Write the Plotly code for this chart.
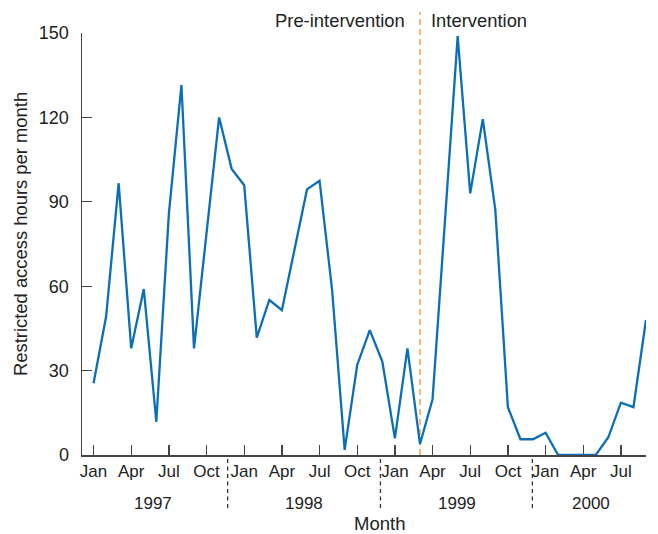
import plotly.graph_objects as go

# Monthly restricted access hours, Jan 1997 .. Sep 2000
hours = [25.5, 49.2, 96.6, 37.9, 59.0, 11.8, 85.9, 131.5, 37.9, 79.0, 120.0, 101.7,
         95.9, 41.7, 55.1, 51.5, 73.0, 94.4, 97.5, 58.6, 1.8, 32.0, 44.4, 33.2,
         5.9, 37.9, 3.9, 19.8, 84.0, 148.9, 93.0, 119.4, 87.1, 17.0, 5.6, 5.6,
         7.9, 0.0, 0.0, 0.0, 0.0, 6.3, 18.6, 17.0, 48.0]
month_ticks = [0, 3, 6, 9, 12, 15, 18, 21, 24, 27, 30, 33, 36, 39, 42]
month_labels = ["Jan", "Apr", "Jul", "Oct"] * 3 + ["Jan", "Apr", "Jul"]
years = ["1997", "1998", "1999", "2000"]
year_pos = [4.73, 16.76, 28.93, 39.6]
year_seps = [10.68, 22.85, 34.95]
intervention_start = 26
y_ticks = [0, 30, 60, 90, 120, 150]

x = list(range(len(hours)))

BLUE = "#0B6FB8"
ORANGE = "#FBB56E"
AX = "#444444"
TXT = "#222222"
FONT = "Liberation Sans, Arial, sans-serif"

W, H = 658, 534
plot_l, plot_r, plot_t, plot_b = 82, 12, 33, 79
pw = W - plot_l - plot_r
ph = H - plot_t - plot_b


def px_x(p):
    return (p - plot_l) / pw


def px_y(p):
    return (H - plot_b - p) / ph


fig = go.Figure()
fig.add_trace(go.Scatter(x=x, y=hours, mode="lines",
                         line=dict(color=BLUE, width=2.3), showlegend=False,
                         hoverinfo="skip", cliponaxis=False))

shapes = []
shapes.append(dict(type="line", xref="x", yref="paper", x0=intervention_start, x1=intervention_start,
                   y0=0, y1=px_y(12), layer="below", line=dict(color=ORANGE, width=2, dash="6px,4px")))
for s in year_seps:
    shapes.append(dict(type="line", xref="x", yref="paper", x0=s, x1=s,
                       y0=px_y(459), y1=px_y(509), line=dict(color="#333333", width=1.3, dash="4px,3.5px")))

annotations = []
for yv, yp in zip(years, year_pos):
    annotations.append(dict(x=yp, y=px_y(503), xref="x", yref="paper", text=yv, showarrow=False,
                            font=dict(size=17, color=TXT, family=FONT), xanchor="center", yanchor="middle"))
annotations.append(dict(x=px_x(379), y=px_y(523), xref="paper", yref="paper", text="Month", showarrow=False,
                        font=dict(size=18.5, color=TXT, family=FONT), xanchor="center", yanchor="middle"))
annotations.append(dict(x=px_x(407), y=px_y(21), xref="paper", yref="paper", text="Pre-intervention",
                        showarrow=False, font=dict(size=18.4, color=TXT, family=FONT),
                        xanchor="right", yanchor="middle"))
annotations.append(dict(x=px_x(429), y=px_y(21), xref="paper", yref="paper", text="Intervention",
                        showarrow=False, font=dict(size=18.4, color=TXT, family=FONT),
                        xanchor="left", yanchor="middle"))
annotations.append(dict(x=px_x(20), y=px_y(234), xref="paper", yref="paper",
                        text="Restricted access hours per month",
                        showarrow=False, textangle=-90, font=dict(size=18.4, color=TXT, family=FONT),
                        xanchor="center", yanchor="middle"))

fig.update_layout(
    width=W, height=H,
    margin=dict(l=plot_l, r=plot_r, t=plot_t, b=plot_b, pad=0),
    plot_bgcolor="white", paper_bgcolor="white",
    font=dict(family=FONT, size=17, color=TXT),
    shapes=shapes, annotations=annotations,
    xaxis=dict(range=[-0.92, 44], tickmode="array", tickvals=month_ticks, ticktext=month_labels,
               ticks="inside", ticklen=10, tickwidth=1.3, tickcolor=AX,
               showline=True, linecolor=AX, linewidth=1.5, showgrid=False, zeroline=False,
               tickfont=dict(size=17, color=TXT), ticklabelstandoff=0),
    yaxis=dict(range=[0, 150], tickmode="array", tickvals=y_ticks,
               ticks="inside", ticklen=10, tickwidth=1.3, tickcolor=AX,
               showline=True, linecolor=AX, linewidth=1.5, showgrid=False, zeroline=False,
               tickfont=dict(size=18, color=TXT), ticklabelstandoff=8),
)

fig.write_html("out.html", config={"displayModeBar": False, "staticPlot": True},
               post_script="document.body.style.margin='0';document.body.style.padding='0';")
